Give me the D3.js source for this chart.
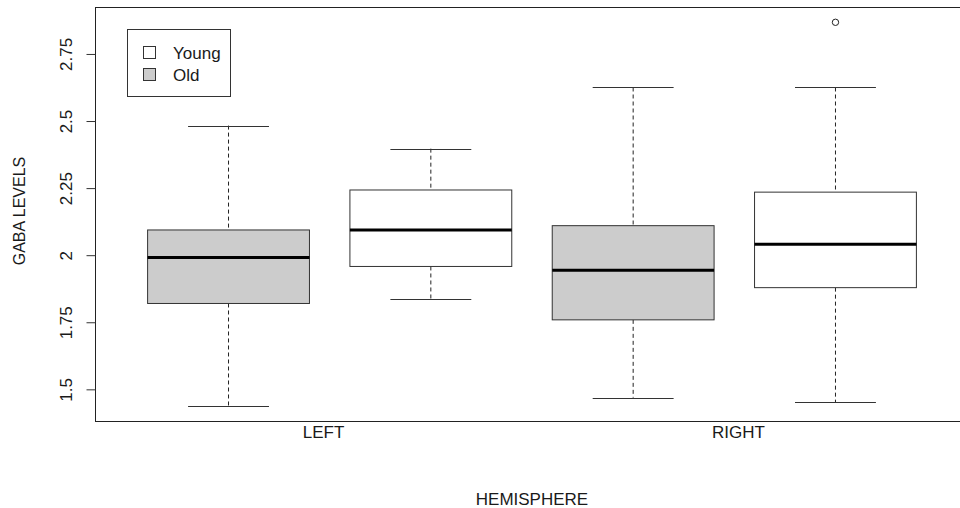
<!DOCTYPE html>
<html>
<head>
<meta charset="utf-8">
<script src="https://cdn.jsdelivr.net/npm/d3@7"></script>
<style>
  body { margin:0; background:#fff; }
  text { font-family: Arial, "Liberation Sans", sans-serif; fill:#1a1a1a; }
</style>
</head>
<body>
<div id="canvas"></div>
<script>
// box stats, one entry per box (left->right)
var groups = ['Old', 'Young', 'Old', 'Young'];
var lowWhisker = [1.439, 1.835, 1.469, 1.451];
var q1 = [1.820, 1.958, 1.759, 1.879];
var medians = [1.991, 2.094, 1.944, 2.041];
var q3 = [2.094, 2.243, 2.110, 2.235];
var highWhisker = [2.483, 2.397, 2.625, 2.625];
var outliers = [[], [], [], [2.868]];

var hemispheres = ['LEFT', 'RIGHT'];
var hemiPos = [1.47, 3.52];
var yTicks = [1.5, 1.75, 2, 2.25, 2.5, 2.75];
var legendItems = ['Young', 'Old'];

var W = 960, H = 508;
var fills = {Young:'#ffffff', Old:'#cccccc'};

var svg = d3.select('#canvas')
    .append('svg')
    .attr('width', W)
    .attr('height', H);

// R style: boxes at 1..4, 4% padding on each side
var scaleX = d3.scaleLinear().domain([0.34, 4.66]).range([95, 969]);
var scaleY = d3.scaleLinear().domain([1.382, 2.925]).range([421, 7]);

var boxW = scaleX(0.8) - scaleX(0);
var capW = scaleX(0.4) - scaleX(0);

var data = groups.map(function(g, i){
  return {pos:i+1, group:g, lo:lowWhisker[i], q1:q1[i], med:medians[i], q3:q3[i], hi:highWhisker[i], out:outliers[i]};
});

var boxes = svg.selectAll('g.box')
    .data(data)
    .enter()
    .append('g')
    .attr('class', 'box');

// whiskers (dashed)
boxes.append('line')
    .attr('x1', function(d){ return scaleX(d.pos); })
    .attr('x2', function(d){ return scaleX(d.pos); })
    .attr('y1', function(d){ return scaleY(d.hi); })
    .attr('y2', function(d){ return scaleY(d.q3); })
    .attr('stroke', '#222').attr('stroke-dasharray', '4,3');
boxes.append('line')
    .attr('x1', function(d){ return scaleX(d.pos); })
    .attr('x2', function(d){ return scaleX(d.pos); })
    .attr('y1', function(d){ return scaleY(d.q1); })
    .attr('y2', function(d){ return scaleY(d.lo); })
    .attr('stroke', '#222').attr('stroke-dasharray', '4,3');

// caps
['hi', 'lo'].forEach(function(k){
  boxes.append('line')
      .attr('x1', function(d){ return scaleX(d.pos) - capW/2; })
      .attr('x2', function(d){ return scaleX(d.pos) + capW/2; })
      .attr('y1', function(d){ return Math.round(scaleY(d[k])) + 0.5; })
      .attr('y2', function(d){ return Math.round(scaleY(d[k])) + 0.5; })
      .attr('stroke', '#333');
});

// boxes
boxes.append('rect')
    .attr('x', function(d){ return scaleX(d.pos) - boxW/2; })
    .attr('y', function(d){ return scaleY(d.q3); })
    .attr('width', boxW)
    .attr('height', function(d){ return scaleY(d.q1) - scaleY(d.q3); })
    .attr('fill', function(d){ return fills[d.group]; })
    .attr('stroke', '#333');

// medians
boxes.append('line')
    .attr('x1', function(d){ return scaleX(d.pos) - boxW/2; })
    .attr('x2', function(d){ return scaleX(d.pos) + boxW/2; })
    .attr('y1', function(d){ return scaleY(d.med); })
    .attr('y2', function(d){ return scaleY(d.med); })
    .attr('stroke', '#000').attr('stroke-width', 3);

// outliers
boxes.selectAll('circle')
    .data(function(d){ return d.out.map(function(v){ return {pos:d.pos, v:v}; }); })
    .enter()
    .append('circle')
    .attr('cx', function(d){ return scaleX(d.pos); })
    .attr('cy', function(d){ return scaleY(d.v); })
    .attr('r', 3.2)
    .attr('fill', 'none')
    .attr('stroke', '#222');

// plot frame
svg.append('rect')
    .attr('x', 95.5).attr('y', 7.5)
    .attr('width', 969 - 95).attr('height', 421 - 7)
    .attr('fill', 'none')
    .attr('stroke', '#222');

// y axis
var axisY = d3.axisLeft(scaleY)
    .tickValues(yTicks)
    .tickFormat(function(d){ return d; })
    .tickSize(9)
    .tickSizeOuter(0);
var gy = svg.append('g')
    .attr('transform', 'translate(95.5,0)')
    .call(axisY);
gy.select('.domain').remove();
gy.selectAll('.tick line').attr('stroke', '#333');
gy.selectAll('.tick text')
    .attr('x', 0).attr('y', -24).attr('dy', 0)
    .attr('transform', 'rotate(-90)')
    .attr('text-anchor', 'middle')
    .style('font-size', '17px')
    .attr('font-family', null)
    .attr('fill', '#1a1a1a');

// x labels (no tick marks in the original)
svg.selectAll('text.hemi')
    .data(hemispheres)
    .enter()
    .append('text')
    .attr('class', 'hemi')
    .attr('x', function(d, i){ return scaleX(hemiPos[i]); })
    .attr('y', 438)
    .attr('text-anchor', 'middle')
    .style('font-size', '17px')
    .text(function(d){ return d; });

// axis titles
svg.append('text')
    .attr('x', 532).attr('y', 505)
    .attr('text-anchor', 'middle')
    .style('font-size', '17px')
    .text('HEMISPHERE');
svg.append('text')
    .attr('transform', 'translate(25,211) rotate(-90)')
    .attr('text-anchor', 'middle')
    .style('font-size', '16px')
    .text('GABA LEVELS');

// legend
var lg = svg.append('g');
lg.append('rect')
    .attr('x', 127.5).attr('y', 29.5)
    .attr('width', 103).attr('height', 67)
    .attr('fill', '#fff').attr('stroke', '#333');
var li = lg.selectAll('g.item')
    .data(legendItems)
    .enter()
    .append('g')
    .attr('transform', function(d, i){ return 'translate(0,' + (53 + i*22) + ')'; });
li.append('rect')
    .attr('x', 143.5).attr('y', -6.5)
    .attr('width', 12).attr('height', 12)
    .attr('fill', function(d){ return fills[d]; })
    .attr('stroke', '#333');
li.append('text')
    .attr('x', 173).attr('y', 6)
    .style('font-size', '17px')
    .text(function(d){ return d; });
</script>
</body>
</html>
